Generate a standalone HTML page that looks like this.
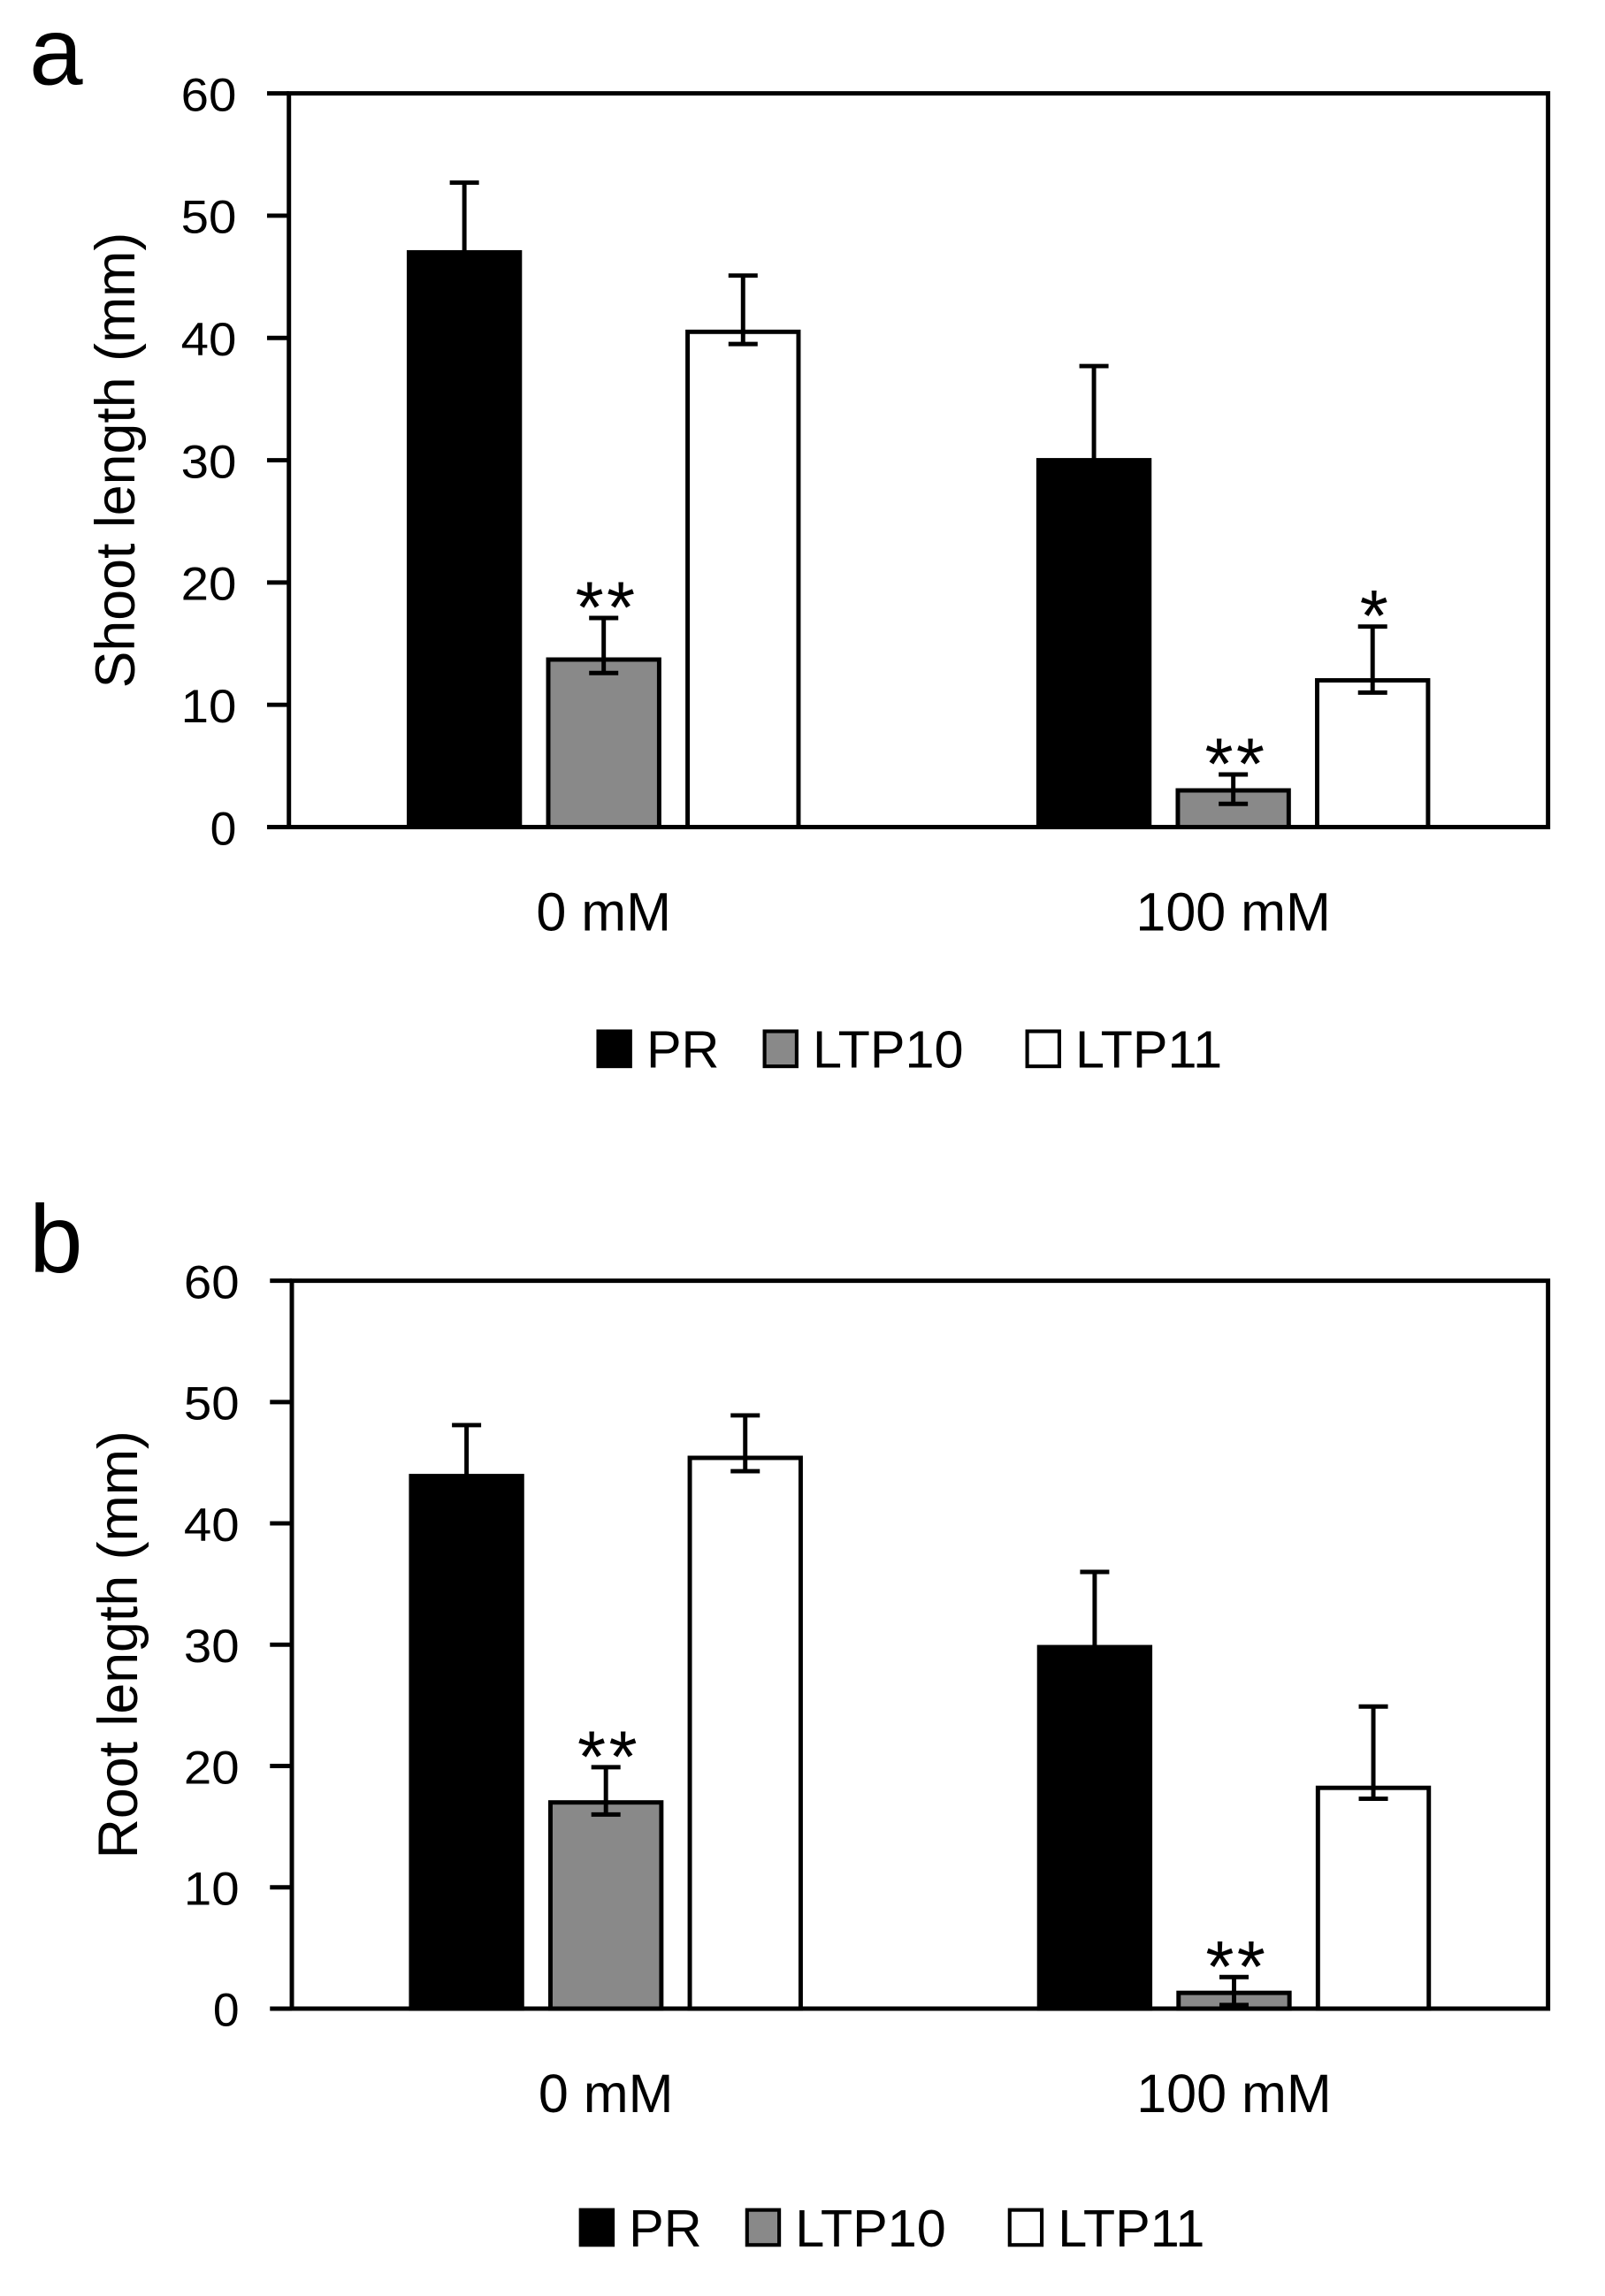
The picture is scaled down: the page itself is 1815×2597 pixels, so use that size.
<!DOCTYPE html>
<html><head><meta charset="utf-8"><style>
html,body{margin:0;padding:0;background:#fff;}
svg{display:block;}
text{font-family:"Liberation Sans",sans-serif;fill:#000;}
</style></head><body>
<svg id="fig" width="1815" height="2597" viewBox="0 0 1100 1574" xmlns="http://www.w3.org/2000/svg"></svg>
<script>
const categories = ["0 mM", "100 mM"];
const seriesNames = ["PR", "LTP10", "LTP11"];
const yTicks = [0, 10, 20, 30, 40, 50, 60];
// panel a: shoot length
const shootPR = [47, 30];
const shootLTP10 = [13.7, 3];
const shootLTP11 = [40.5, 12];
const shootErrUp = [[5.7, 7.7], [3.4, 1.3], [4.6, 4.4]];
const shootErrDown = [[5.7, 7.7], [1.1, 1.1], [1.0, 1.0]];
const shootStars = [["", ""], ["**", "**"], ["", "*"]];
// panel b: root length
const rootPR = [43.9, 29.8];
const rootLTP10 = [17, 1.3];
const rootLTP11 = [45.4, 18.2];
const rootErrUp = [[4.2, 6.2], [2.9, 1.3], [3.5, 6.7]];
const rootErrDown = [[4.2, 6.2], [1.0, 1.0], [1.1, 0.9]];
const rootStars = [["", ""], ["**", "**"], ["", ""]];

const NS = "http://www.w3.org/2000/svg";
const svg = document.getElementById("fig");
const fills = ["#000", "#898989", "#fff"];
const SW = 3;
function mk(tag, attrs, parent) {
  const e = document.createElementNS(NS, tag);
  for (const k in attrs) e.setAttribute(k, attrs[k]);
  (parent || svg).appendChild(e);
  return e;
}
function panel(p) {
  const g = mk("g", {});
  
  
  const L = p.left, R = 1061, T = p.top, B = p.bottom;
  const y = v => B - (v / 60) * (B - T);
  const groupW = (R - L) / categories.length;
  const barW = 76, gap = 19.5;
  const xBar = (ci, si) => L + groupW * (ci + 0.5) + (si - 1) * (barW + gap) - barW / 2;
  const lab = mk("text", {x: 20, y: p.top - 6, "font-size": 66}, g);
  lab.textContent = p.letter;
  
  
  const fr = mk("rect", {x: L, y: T, width: R - L, height: B - T, fill: "none", stroke: "#000", "stroke-width": SW}, g);
  
  
  yTicks.forEach(t => {
    mk("line", {x1: L - 15, x2: L, y1: y(t), y2: y(t), stroke: "#000", "stroke-width": SW}, g);
    const tx = mk("text", {x: L - 36, y: y(t) + 12, "font-size": 32, "text-anchor": "end", "textLength": t === 0 ? 18 : 38, "lengthAdjust": "spacingAndGlyphs"}, g);
    tx.textContent = t;
    
    
  });
  const yt = mk("text", {transform: `translate(${L - 106},${(T + B) / 2}) rotate(-90)`, "font-size": 38, "text-anchor": "middle"}, g);
  yt.textContent = p.title;
  
  
  categories.forEach((c, ci) => {
    const ct = mk("text", {x: L + groupW * (ci + 0.5), y: B + 71, "font-size": 37, "text-anchor": "middle"}, g);
    ct.textContent = c;
    
    
  });
  p.series.forEach((vals, si) => {
    vals.forEach((v, ci) => {
      const x0 = xBar(ci, si);
      const cx = x0 + barW / 2;
      const up = v + p.up[si][ci], dn = v - p.down[si][ci];
      const r = mk("rect", {x: x0, y: y(v), width: barW, height: B - y(v), fill: fills[si], stroke: "#000", "stroke-width": SW}, g);
      
      
      const eb2 = mk("g", {}, g);
      
      
      mk("line", {x1: cx, x2: cx, y1: y(up), y2: y(si === 0 ? v : dn), stroke: "#000", "stroke-width": SW}, eb2);
      mk("line", {x1: cx - 10, x2: cx + 10, y1: y(up), y2: y(up), stroke: "#000", "stroke-width": SW}, eb2);
      if (si !== 0) mk("line", {x1: cx - 10, x2: cx + 10, y1: y(dn), y2: y(dn), stroke: "#000", "stroke-width": SW}, eb2);
      const s = p.stars[si][ci];
      if (s) {
        const st = mk("text", {x: cx + 2, y: y(up) + 10, "font-size": 50, "text-anchor": "middle", "letter-spacing": 2}, g);
        st.textContent = s;
        
        
      }
    });
  });
  const lg = mk("g", {}, g);
  
  
  const lx = p.legendX, ly = p.legendY;
  const offs = [0, 114, 294];
  seriesNames.forEach((n, si) => {
    const ent = mk("g", {}, lg);
    
    
    mk("rect", {x: lx + offs[si], y: ly - 12, width: 22, height: 24, fill: fills[si], stroke: "#000", "stroke-width": 2.5}, ent);
    const t = mk("text", {x: lx + offs[si] + 33, y: ly + 13, "font-size": 36}, ent);
    t.textContent = n;
  });
}
panel({id: "panel-a-shoot-length", letter: "a", title: "Shoot length (mm)", left: 198, top: 64, bottom: 567,
  series: [shootPR, shootLTP10, shootLTP11], up: shootErrUp, down: shootErrDown, stars: shootStars,
  legendX: 410, legendY: 719});
panel({id: "panel-b-root-length", letter: "b", title: "Root length (mm)", left: 200, top: 878, bottom: 1377,
  series: [rootPR, rootLTP10, rootLTP11], up: rootErrUp, down: rootErrDown, stars: rootStars,
  legendX: 398, legendY: 1527});
</script>
</body></html>
